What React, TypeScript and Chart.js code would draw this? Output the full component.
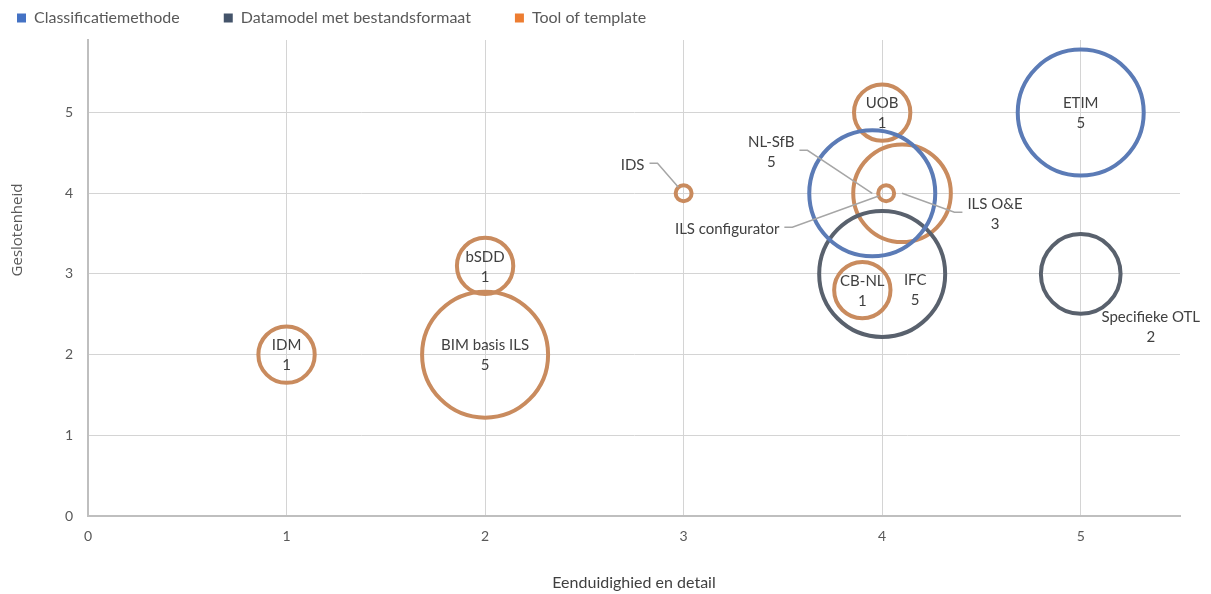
import React, { useEffect, useRef } from "react";
import { Chart, registerables } from "chart.js";

Chart.register(...registerables);

// Series
const seriesNames = ["Classificatiemethode", "Datamodel met bestandsformaat", "Tool of template"];
const seriesLegendColors = ["#4472C4", "#44546A", "#ED7D31"];
const seriesLineColors = ["#5B7BB6", "#59616D", "#C98B5E"];

// Classificatiemethode
const classNames = ["NL-SfB", "ETIM"];
const classX = [3.95, 5];
const classY = [4, 5];
const classSize = [5, 5];

// Datamodel met bestandsformaat
const dataNames = ["IFC", "Specifieke OTL"];
const dataX = [4, 5];
const dataY = [3, 3];
const dataSize = [5, 2];

// Tool of template
const toolNames = ["IDM", "BIM basis ILS", "bSDD", "IDS", "UOB", "ILS configurator", "ILS O&E", "CB-NL"];
const toolX = [1, 2, 2, 3, 4, 4.02, 4.1, 3.9];
const toolY = [2, 2, 3.1, 4, 5, 4, 4, 2.8];
const toolSize = [1, 5, 1, 0.08, 1, 0.08, 3, 1];

// Items whose label shows the name only
const nameOnlyLabels = ["IDS", "ILS configurator"];

// Axes
const xAxisTitle = "Eenduidighied en detail";
const yAxisTitle = "Geslotenheid";
const xMin = 0;
const xMax = 5.5;
const yMin = 0;
const yMax = 5.9;
const tickStep = 1;

// Bubble area scaling: the largest size maps to this radius (px)
const MAX_SIZE = 5;
const MAX_RADIUS = 63;

// Label placement relative to the bubble centre (px)
const labelPlacement: Record<string, { dx: number; dy: number; leader?: boolean }> = {
  "IFC": { dx: 33, dy: 16 },
  "NL-SfB": { dx: -101, dy: -41, leader: true },
  "IDS": { dx: -51, dy: -28, leader: true },
  "ILS configurator": { dx: -159, dy: 36, leader: true },
  "ILS O&E": { dx: 93, dy: 21, leader: true },
  "Specifieke OTL": { dx: 70, dy: 53 },
};

const LEGEND_FONT = 16;
const LEGEND_PAD = 44;
const LAYOUT_LEFT = 17 - LEGEND_PAD;
const LEGEND_TEXT_Y = 18;
const LAYOUT_TOP = LEGEND_TEXT_Y - LEGEND_FONT / 2 - LEGEND_PAD;
const PLOT_LEFT = 88;
const PLOT_RIGHT = 1180;
const PLOT_TOP = 40;
const PLOT_BOTTOM = 516;
const CANVAS_W = 1211;
const CANVAS_H = 594;

type Pt = { x: number; y: number; r: number; name: string; size: number };

function buildPoints(names: string[], xs: number[], ys: number[], sizes: number[]): Pt[] {
  return names.map((name, i) => ({
    x: xs[i],
    y: ys[i],
    r: MAX_RADIUS * Math.sqrt(sizes[i] / MAX_SIZE),
    name,
    size: sizes[i],
  }));
}

const bubbleLabels = {
  id: "bubbleLabels",
  afterDatasetsDraw(chart: any) {
    const ctx = chart.ctx as CanvasRenderingContext2D;
    ctx.save();
    ctx.font = "15px Lato";
    ctx.textAlign = "center";
    ctx.textBaseline = "middle";
    const lineH = 20;
    chart.data.datasets.forEach((ds: any, di: number) => {
      const meta = chart.getDatasetMeta(di);
      meta.data.forEach((el: any, i: number) => {
        const p: Pt = ds.data[i];
        const place = labelPlacement[p.name] || { dx: 0, dy: 1 };
        const lines = nameOnlyLabels.includes(p.name) ? [p.name] : [p.name, String(p.size)];
        const cx = el.x + place.dx;
        const cy = el.y + place.dy;
        if (place.leader) {
          const w = Math.max(...lines.map((t) => ctx.measureText(t).width));
          const side = el.x > cx ? 1 : -1;
          const sx = cx + side * (w / 2 + 5);
          const sy = cy - 2;
          const bx = sx + side * 8;
          const vx = el.x - bx;
          const vy = el.y - sy;
          const d = Math.hypot(vx, vy) || 1;
          const stop = p.r < 15 ? p.r : 0;
          ctx.beginPath();
          ctx.strokeStyle = "#A6A6A6";
          ctx.lineWidth = 1.5;
          ctx.moveTo(sx, sy);
          ctx.lineTo(bx, sy);
          ctx.lineTo(el.x - (vx / d) * stop, el.y - (vy / d) * stop);
          ctx.stroke();
        }
        ctx.fillStyle = "#404040";
        const top = cy - ((lines.length - 1) * lineH) / 2;
        lines.forEach((t, k) => ctx.fillText(t, cx, top + k * lineH));
      });
    });
    ctx.restore();
  },
};

const verticalTitle = {
  id: "verticalTitle",
  afterDraw(chart: any) {
    const ctx = chart.ctx as CanvasRenderingContext2D;
    ctx.save();
    ctx.translate(18, 230);
    ctx.rotate(-Math.PI / 2);
    ctx.font = "15px 'Open Sans'";
    ctx.fillStyle = "#595959";
    ctx.textAlign = "center";
    ctx.textBaseline = "middle";
    ctx.fillText(yAxisTitle, 0, 0);
    ctx.restore();
  },
};

export default function App() {
  const canvasRef = useRef<HTMLCanvasElement | null>(null);

  useEffect(() => {
    if (!canvasRef.current) return;
    const groups = [
      buildPoints(classNames, classX, classY, classSize),
      buildPoints(dataNames, dataX, dataY, dataSize),
      buildPoints(toolNames, toolX, toolY, toolSize),
    ];
    const legendBottom = LAYOUT_TOP + LEGEND_FONT + LEGEND_PAD + 10;
    const chart = new Chart(canvasRef.current, {
      type: "bubble",
      data: {
        datasets: groups.map((pts, i) => ({
          label: seriesNames[i],
          data: pts as any,
          backgroundColor: "rgba(0,0,0,0)",
          borderColor: seriesLineColors[i],
          borderWidth: 4,
          hoverBorderWidth: 4,
          hoverRadius: 0,
          clip: false as any,
        })),
      },
      options: {
        animation: false,
        responsive: false,
        devicePixelRatio: 1,
        events: [],
        layout: {
          autoPadding: false,
          padding: { top: LAYOUT_TOP, left: LAYOUT_LEFT, right: CANVAS_W - PLOT_RIGHT, bottom: 0 },
        },
        font: { family: "Lato" },
        plugins: {
          tooltip: { enabled: false },
          title: { display: false },
          subtitle: {
            display: true,
            text: "",
            weight: 500,
            font: { size: 1, lineHeight: 1 },
            padding: { top: 0, bottom: Math.max(0, PLOT_TOP - legendBottom - 1) },
          } as any,
          legend: {
            position: "top",
            align: "start",
            labels: {
              boxWidth: 9,
              boxHeight: 9,
              padding: LEGEND_PAD,
              color: "#595959",
              font: { family: "Lato", size: LEGEND_FONT },
              generateLabels: (c: any) =>
                c.data.datasets.map((ds: any, i: number) => ({
                  text: ds.label,
                  fillStyle: seriesLegendColors[i],
                  strokeStyle: seriesLegendColors[i],
                  lineWidth: 0,
                  hidden: false,
                  datasetIndex: i,
                  fontColor: "#595959",
                })),
            },
          },
        },
        scales: {
          x: {
            type: "linear",
            min: xMin,
            max: xMax,
            ticks: {
              stepSize: tickStep,
              includeBounds: false,
              padding: 12,
              color: "#595959",
              font: { family: "Lato", size: 14 },
            },
            grid: { color: "#D4D4D4", lineWidth: 1, drawTicks: false },
            border: { color: "#BFBFBF", width: 2 },
            title: {
              display: true,
              text: xAxisTitle,
              color: "#404040",
              font: { family: "Lato", size: 16 },
              padding: { top: 0, bottom: 1.5 },
            },
            afterFit: (s: any) => {
              s.height = CANVAS_H - PLOT_BOTTOM;
            },
          },
          y: {
            type: "linear",
            min: yMin,
            max: yMax,
            ticks: {
              stepSize: tickStep,
              includeBounds: false,
              padding: 15,
              color: "#595959",
              font: { family: "Lato", size: 14 },
            },
            grid: { color: "#D4D4D4", lineWidth: 1, drawTicks: false },
            border: { color: "#BFBFBF", width: 2 },
            afterFit: (s: any) => {
              s.width = PLOT_LEFT - LAYOUT_LEFT;
            },
          },
        },
      },
      plugins: [bubbleLabels, verticalTitle],
    });
    return () => chart.destroy();
  }, []);

  return (
    <div style={{ position: "fixed", left: 0, top: 0, width: CANVAS_W, height: CANVAS_H, background: "#fff" }}>
      <canvas ref={canvasRef} width={CANVAS_W} height={CANVAS_H} />
    </div>
  );
}
